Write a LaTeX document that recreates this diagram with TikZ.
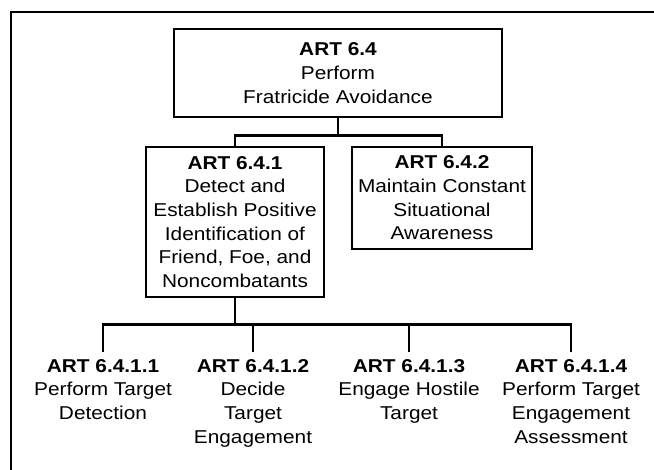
\documentclass[tikz,border=0pt]{standalone}
\usepackage{fontspec}
\setmainfont{Liberation Sans}[FakeStretch=1.12]

\begin{document}
\begin{tikzpicture}[x=1pt,y=-1pt,
    box/.style={draw, line width=2.6pt, align=center, inner sep=0pt,
        font=\fontsize{18.6}{23.7}\selectfont},
    task/.style={align=center, anchor=north, inner xsep=0pt, inner ysep=7pt,
        font=\fontsize{18.6}{23.7}\selectfont},
    link/.style={line width=2.6pt}]
            \useasboundingbox (0,0) rectangle (654,470);
            \coordinate (O) at (11,470);
            \coordinate (P) at (11,12);
            \coordinate (Q) at (654,12);
            \draw[line width=2.6pt] (O) -- (P) -- (Q);
            \node[box, minimum width=328pt, minimum height=88pt] (T) at (338,73)
                {\textbf{ART 6.4}\\Perform\\Fratricide Avoidance};
            \node[box, minimum width=178pt, minimum height=150pt] (A) at (235,222)
                {\textbf{ART 6.4.1}\\Detect and\\Establish Positive\\Identification of\\Friend, Foe, and\\Noncombatants};
            \node[box, minimum width=180pt, minimum height=102pt] (B) at (442,198)
                {\textbf{ART 6.4.2}\\Maintain Constant\\Situational\\Awareness};
            \node[task] (D1) at (103,352) {\textbf{ART 6.4.1.1}\\Perform Target\\Detection};
            \node[task] (D2) at (253,352) {\textbf{ART 6.4.1.2}\\Decide\\Target\\Engagement};
            \node[task] (D3) at (409,352) {\textbf{ART 6.4.1.3}\\Engage Hostile\\Target};
            \node[task] (D4) at (571,352) {\textbf{ART 6.4.1.4}\\Perform Target\\Engagement\\Assessment};
            \draw[link] (T.south) -- ++(0,17) -| (A.north);
            \draw[link] (T.south) -- ++(0,17) -| (B.north);
            \foreach \d in {D1,D2,D3,D4}
                \draw[link] (A.south) -- ++(0,26) -| (\d.north);
        \end{tikzpicture}
\end{document}
